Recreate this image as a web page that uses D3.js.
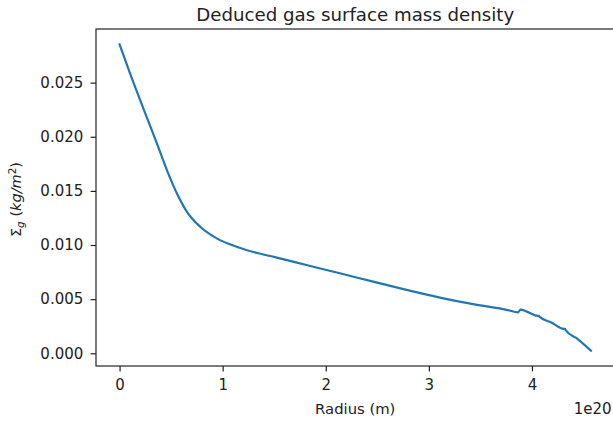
<!DOCTYPE html>
<html>
<head>
<meta charset="utf-8">
<script src="https://cdn.jsdelivr.net/npm/d3@7"></script>
<style>
  html, body { margin: 0; padding: 0; background: #fff; }
  svg { display: block; font-family: "DejaVu Sans", sans-serif; }
</style>
</head>
<body>
<div id="chart"></div>
<script>
// radius in units of 1e20 m
const radius = [0, 0.104, 0.233, 0.364, 0.461, 0.558, 0.655, 0.785, 0.947, 1.141, 1.336, 1.497,
    1.822, 2.146, 2.470, 2.794, 3.118, 3.442, 3.767, 3.864, 3.889, 3.95, 4.06, 4.068, 4.075,
    4.188, 4.31, 4.319, 4.325, 4.447, 4.572];
// surface density in kg/m^2
const sigma = [0.02854, 0.02578, 0.02256, 0.01934, 0.01688, 0.01473, 0.01304, 0.01166, 0.01059, 0.00982, 0.00926, 0.00890,
    0.00813, 0.00737, 0.00659, 0.00583, 0.00512, 0.00451, 0.00399, 0.00378, 0.00403, 0.00385, 0.00346, 0.00346, 0.00336,
    0.00285, 0.00226, 0.00226, 0.00216, 0.00129, 0.00024];
const xTicks = [0, 1, 2, 3, 4];
const yTicks = [0.000, 0.005, 0.010, 0.015, 0.020, 0.025];

const W = 613, H = 422;
const margin = { top: 29, right: -1.5, bottom: 56, left: 96 };
const fs = 15;

const data = radius.map((r, i) => ({ r: r, s: sigma[i] }));

const svg = d3.select("#chart").append("svg")
    .attr("width", W).attr("height", H);

// matplotlib style 5% margins around the data
const xExt = d3.extent(radius), yExt = d3.extent(sigma);
const xPad = (xExt[1] - xExt[0]) * 0.05, yPad = (yExt[1] - yExt[0]) * 0.05;

const x = d3.scaleLinear()
    .domain([xExt[0] - xPad, xExt[1] + xPad])
    .range([margin.left, W - margin.right]);
const y = d3.scaleLinear()
    .domain([yExt[0] - yPad, yExt[1] + yPad])
    .range([H - margin.bottom, margin.top]);

const line = d3.line()
    .x(d => x(d.r))
    .y(d => y(d.s))
    .curve(d3.curveMonotoneX);

svg.append("path")
    .datum(data)
    .attr("fill", "none")
    .attr("stroke", "#1f77b4")
    .attr("stroke-width", 2.2)
    .attr("stroke-linecap", "square")
    .attr("d", line);

// axes
const xAxis = svg.append("g")
    .attr("transform", `translate(0,${H - margin.bottom})`)
    .call(d3.axisBottom(x).tickValues(xTicks).tickFormat(d3.format("d")).tickSize(5.4).tickPadding(7.6));
const yAxis = svg.append("g")
    .attr("transform", `translate(${margin.left},0)`)
    .call(d3.axisLeft(y).tickValues(yTicks).tickFormat(d3.format(".3f")).tickSize(5.4).tickPadding(7.3));

[xAxis, yAxis].forEach(g => {
    g.select(".domain").remove();
    g.selectAll("line").attr("stroke", "#222").attr("stroke-width", 1.2);
    g.selectAll("text").attr("fill", "#222").style("font-size", fs + "px").style("font-family", "DejaVu Sans");
});

// frame
svg.append("rect")
    .attr("x", margin.left).attr("y", margin.top)
    .attr("width", x.range()[1] - margin.left)
    .attr("height", H - margin.bottom - margin.top)
    .attr("fill", "none").attr("stroke", "#222").attr("stroke-width", 1.2);

const midX = (margin.left + x.range()[1]) / 2;

// title
svg.append("text")
    .attr("x", midX)
    .attr("y", 20.5)
    .attr("text-anchor", "middle")
    .attr("fill", "#222")
    .style("font-size", "18.2px")
    .text("Deduced gas surface mass density");

// x label
svg.append("text")
    .attr("x", midX)
    .attr("y", 413.5)
    .attr("text-anchor", "middle")
    .attr("fill", "#222")
    .style("font-size", "14.8px")
    .text("Radius (m)");

// offset text
svg.append("text")
    .attr("x", 611.5)
    .attr("y", 413.5)
    .attr("text-anchor", "end")
    .attr("fill", "#222")
    .style("font-size", fs + "px")
    .text("1e20");

// y label
const yl = svg.append("text")
    .attr("transform", `translate(21,${(margin.top + H - margin.bottom) / 2 + 2}) rotate(-90)`)
    .attr("text-anchor", "middle")
    .attr("fill", "#222")
    .style("font-size", "14.5px");
yl.append("tspan").text("Σ");
yl.append("tspan").attr("dy", 3).style("font-size", "10.5px").style("font-style", "italic").text("g");
yl.append("tspan").attr("dy", -3).text(" (");
yl.append("tspan").style("font-style", "italic").text("kg/m");
yl.append("tspan").attr("dy", -5.5).style("font-size", "10.5px").text("2");
yl.append("tspan").attr("dy", 5.5).text(")");
</script>
</body>
</html>
